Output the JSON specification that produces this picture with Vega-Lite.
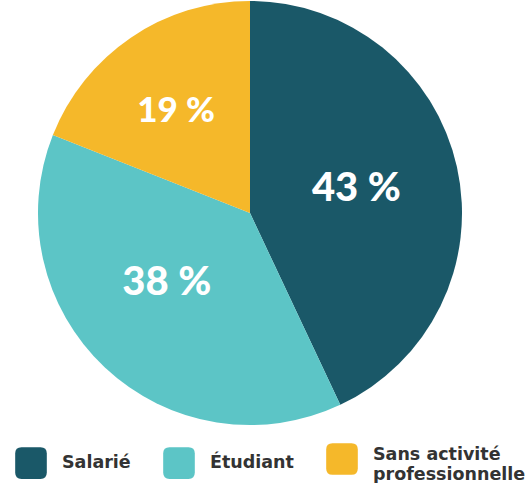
{
  "$schema": "https://vega.github.io/schema/vega-lite/v6.json",
  "width": 424,
  "height": 424,
  "padding": {"left": 15, "top": 1, "right": 0, "bottom": 0},
  "background": "white",
  "config": {"view": {"stroke": null}},
  "data": {"values": [
    {"statut": "Salarié", "part": 43, "rang": 1, "label": "43 %"},
    {"statut": "Étudiant", "part": 38, "rang": 2, "label": "38 %"},
    {"statut": "Sans activité professionnelle", "part": 19, "rang": 3, "label": "19 %"}
  ]},
  "encoding": {
    "theta": {"field": "part", "type": "quantitative", "stack": true},
    "order": {"field": "rang", "type": "ordinal"}
  },
  "layer": [
    {
      "mark": {"type": "arc", "outerRadius": 212},
      "encoding": {
        "color": {
          "field": "statut", "type": "nominal",
          "scale": {"domain": ["Salarié", "Étudiant", "Sans activité professionnelle"], "range": ["#1a5868", "#5cc5c6", "#f5b82a"]},
          "legend": {
            "title": null,
            "orient": "none",
            "legendX": -23,
            "legendY": 442,
            "direction": "horizontal",
            "columns": 3,
            "columnPadding": 32,
            "symbolType": "M-1,-0.6 Q-1,-1 -0.6,-1 L0.6,-1 Q1,-1 1,-0.6 L1,0.6 Q1,1 0.6,1 L-0.6,1 Q-1,1 -1,0.6 Z",
            "symbolSize": 1000,
            "symbolStrokeWidth": 0,
            "symbolOpacity": 1,
            "labelFont": "DejaVu Sans",
            "labelFontWeight": "bold",
            "labelFontSize": 17.5,
            "labelLineHeight": 19,
            "labelColor": "#333333",
            "labelOffset": 15,
            "labelLimit": 300,
            "labelExpr": "datum.label == 'Sans activité professionnelle' ? ['Sans activité', 'professionnelle'] : datum.label",
            "encode": {"labels": {"update": {"dy": {"signal": "datum.value == 'Sans activité professionnelle' ? -4 : 0"}}}}
          }
        }
      }
    },
    {
      "mark": {"type": "text", "radius": 109, "font": "Lato", "fontWeight": 900, "fontSize": 40, "color": "white", "baseline": "middle", "align": "center"},
      "encoding": {"text": {"condition": {"test": "datum.rang == 1", "field": "label"}, "value": ""}}
    },
    {
      "mark": {"type": "text", "radius": 109, "thetaOffset": 0.115, "font": "Lato", "fontWeight": 900, "fontSize": 40, "color": "white", "baseline": "middle", "align": "center"},
      "encoding": {"text": {"condition": {"test": "datum.rang == 2", "field": "label"}, "value": ""}}
    },
    {
      "mark": {"type": "text", "radius": 126, "thetaOffset": -0.03, "font": "Lato", "fontWeight": 900, "fontSize": 35, "color": "white", "baseline": "middle", "align": "center"},
      "encoding": {"text": {"condition": {"test": "datum.rang == 3", "field": "label"}, "value": ""}}
    }
  ]
}
